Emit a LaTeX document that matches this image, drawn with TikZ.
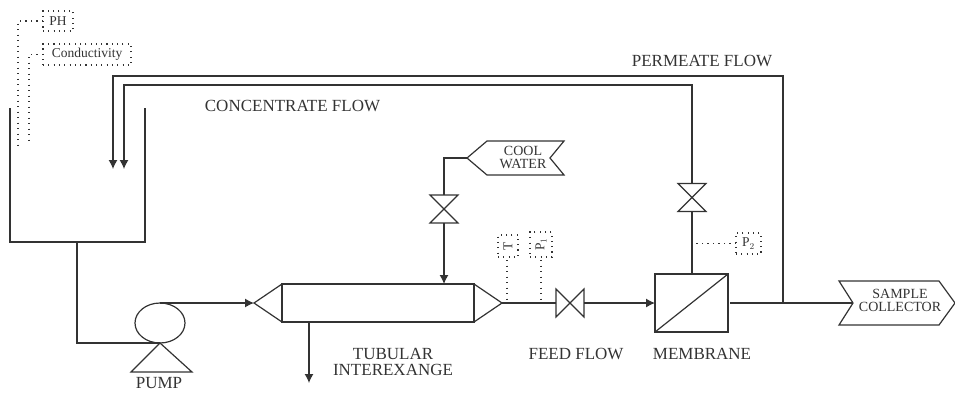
\documentclass[tikz,border=0pt]{standalone}
\usepackage{fontspec}
\setmainfont{Liberation Serif}
\usetikzlibrary{shapes.geometric,arrows.meta}

\begin{document}
\begin{tikzpicture}[x=1pt,y=-1pt,line width=1.2pt,color=black!80,font=\fontsize{17}{15.5}\selectfont,
                    >={Latex[length=9pt,width=9pt]},
                    plain node/.style={inner sep=0pt,outer sep=0pt,align=center},
                    box node/.style={plain node,draw,minimum width=#1},
                    valve node/.style={plain node,minimum size=28pt},
                    probe node/.style={plain node,draw,dash pattern=on 1.1pt off 4.2pt,line width=1.1pt,font=\fontsize{13.5}{13.5}\selectfont},
                    probe line/.style={dash pattern=on 1.1pt off 4.4pt,line width=1.1pt}]

  \useasboundingbox (0,0) rectangle (955,392);

  % tank and pump
  \coordinate (t1) at (10,108);
  \coordinate (t2) at (10,242);
  \coordinate (t3) at (145,242);
  \coordinate (t4) at (145,108);
  \coordinate (tout) at (77,242);
  \draw (t1) -- (t2) -- (t3) -- (t4);

  \node[plain node,draw,ellipse,minimum width=50pt,minimum height=40pt] (pump) at (160,323) {};
  \coordinate (p1) at (131,372);
  \coordinate (p2) at (192,372);
  \draw (pump.south) -- (p1) -- (p2) -- cycle;
  \node[plain node] (pumplabel) at (159,383.5) {PUMP};

  % heat exchanger
  \node[box node=192pt,minimum height=38pt] (hx) at (378,303) {};
  \coordinate (hxin) at (254,303);
  \coordinate (hxout) at (502,303);
  \draw (hx.north west) -- (hxin) -- (hx.south west);
  \draw (hx.north east) -- (hxout) -- (hx.south east);
  \coordinate (hxdrop) at (309,322);
  \coordinate (hxend) at (309,383);
  \node[plain node] (hxlabel) at (393,362) {TUBULAR\\INTEREXANGE};

  % cool water
  \node[plain node,font=\fontsize{14}{13}\selectfont] (cool) at (523,157.5) {COOL\\WATER};
  \coordinate (c0) at (467,158);
  \draw (c0) -- (487,141) -- (564,141) -- (550,158) -- (564,175) -- (487,175) -- cycle;
  \coordinate (cbend) at (444,158);
  \node[valve node] (v1) at (444,209) {};
  \draw (v1.north west) -- (v1.north east) -- (v1.south west) -- (v1.south east) -- cycle;
  \coordinate (hxtop) at (444,284);

  % feed line
  \node[valve node] (v2) at (570,303) {};
  \draw (v2.north west) -- (v2.south west) -- (v2.north east) -- (v2.south east) -- cycle;
  \node[plain node] (feed) at (576,354) {FEED FLOW};

  % membrane
  \node[box node=73pt,minimum height=58pt] (mem) at (691.5,303) {};
  \draw (mem.south west) -- (mem.north east);
  \node[plain node] (memlabel) at (702,354) {MEMBRANE};
  \node[valve node] (v3) at (692,197.5) {};
  \draw (v3.north west) -- (v3.north east) -- (v3.south west) -- (v3.south east) -- cycle;

  % sample collector
  \coordinate (s0) at (853,303);
  \draw (s0) -- (839,281) -- (939,281) -- (955,303) -- (939,325) -- (839,325) -- cycle;
  \node[plain node,font=\fontsize{14}{13}\selectfont] (sample) at (900,300.5) {SAMPLE\\COLLECTOR};

  % return lines
  \coordinate (r1) at (692,85);
  \coordinate (r2) at (124,85);
  \coordinate (r3) at (124,169);
  \coordinate (o0) at (730,303);
  \coordinate (o1) at (783,303);
  \coordinate (o2) at (783,76);
  \coordinate (o3) at (113,76);
  \coordinate (o4) at (113,169);
  \node[plain node] (perm) at (702,61) {PERMEATE FLOW};
  \node[plain node] (conc) at (292.5,106) {CONCENTRATE FLOW};

  \draw (tout) -- (77,343) -- (pump.south);
  \draw[->] (pump.north) -- (hxin);
  \draw[->] (hxdrop) -- (hxend);
  \draw (c0) -- (cbend) -- (v1.north);
  \draw[->] (v1.south) -- (hxtop);
  \draw (hxout) -- (v2.west);
  \draw[->] (v2.east) -- (mem.west);
  \draw (mem.north-|v3) -- (v3.south);
  \draw[->] (v3.north) -- (r1) -- (r2) -- (r3);
  \draw (o0) -- (s0);
  \draw[->] (o1) -- (o2) -- (o3) -- (o4);

  % probes
  \node[probe node,minimum width=30pt,minimum height=20pt] (ph) at (58,21) {PH};
  \node[probe node,minimum width=88pt,minimum height=21pt] (cond) at (87,54.5) {Conductivity};
  \node[probe node,minimum width=20pt,minimum height=22pt] (temp) at (508,246) {\rotatebox{90}{T}};
  \node[probe node,minimum width=22pt,minimum height=25pt] (p1box) at (541,244.5) {\rotatebox{90}{P$_{1}$}};
  \node[probe node,minimum width=25pt,minimum height=21pt] (p2box) at (748.5,243.5) {P$_{2}$};

  \draw[probe line] (ph.west) -- (18,21) -- (18,146);
  \draw[probe line] (cond.west) -- (29,54.5) -- (29,143);
  \draw[probe line] (temp.south) ++(-1,3) -- (507,303);
  \draw[probe line] (p1box.south) ++(0,3) -- (541,303);
  \draw[probe line] (p2box.west) -- (692,243.5);
\end{tikzpicture}
\end{document}
